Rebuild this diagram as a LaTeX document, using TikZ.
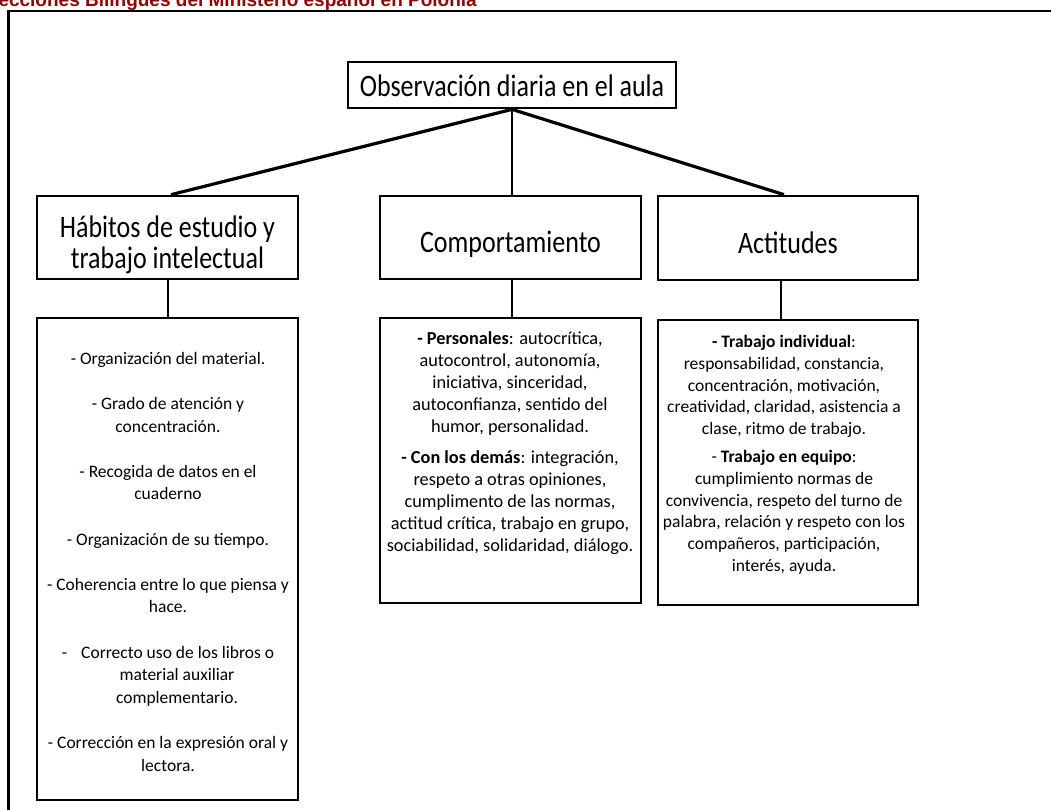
\documentclass[tikz,border=0pt]{standalone}
\usepackage{fontspec}
\usepackage{graphicx}
\setmainfont{Carlito}
\newfontfamily\titlefont{Liberation Sans}
\usetikzlibrary{calc}
\definecolor{titlered}{RGB}{150,0,0}
\newcommand\hdtext[2]{\raisebox{-#1}[\height][\depth]{\scalebox{1}[1.2]{\begin{tabular}{@{}c@{}}#2\end{tabular}}}}
\begin{document}
\begin{tikzpicture}[x=1pt,y=-1pt,
  box/.style={draw=black,line width=2.7pt,inner sep=0pt,rectangle,fill=white},
  hd/.style={font=\fontsize{26}{25}\selectfont},
  conn/.style={line width=3.2pt},
  vconn/.style={line width=2.2pt},
  body/.style={align=center,inner sep=0pt,anchor=north}]
\useasboundingbox (0,0) rectangle (1051,809);
\fill[white] (0,0) rectangle (1051,809);
\clip (0,0) rectangle (1051,809);

% title (cut by the top edge)
\node[anchor=base east,text=titlered,inner sep=0pt,
  font=\titlefont\bfseries\fontsize{19}{19}\selectfont] (title) at (477,6)
  {Secciones Bilingües del Ministerio español en Polonia};

% frame
\draw[line width=2.5pt] (8.7,815) |- (1060,11);

% boxes
\node[box,hd,minimum width=328,minimum height=46] (top) at (512,85)
  {\hdtext{5pt}{Observación diaria en el aula}};
\node[box,hd,minimum width=261,minimum height=83] (h1) at (167.5,237.5)
  {\hdtext{9pt}{Hábitos de estudio y\\trabajo intelectual}};
\node[box,hd,minimum width=261,minimum height=83] (h2) at (510.5,237.5)
  {\hdtext{9pt}{Comportamiento}};
\node[box,hd,minimum width=260,minimum height=84] (h3) at (788,238)
  {\hdtext{9pt}{Actitudes}};

\node[box,minimum width=261,minimum height=482] (d1) at (167.5,559) {};
\node[box,minimum width=261,minimum height=285] (d2) at (510.5,460.5) {};
\node[box,minimum width=260,minimum height=285] (d3) at (788,462.5) {};

% connectors
\draw[conn] (top.south) -- ($(h1.north)+(3.5,0)$);
\draw[vconn] (top.south) -- (top.south |- h2.north);
\draw[conn] (top.south) -- ($(h3.north)+(-4,0)$);
\draw[vconn] ($(h1.south)+(0.5,0)$) -- ($(d1.north)+(0.5,0)$);
\draw[vconn] ($(h2.south)+(1.5,0)$) -- ($(d2.north)+(1.5,0)$);
\draw[vconn] ($(h3.south)+(-7,0)$) -- ($(d3.north)+(-7,0)$);

% texts
\node[body,font=\fontsize{17.5}{22.6}\selectfont] (t1) at (168,352)
  {- Organización del material.\\[22.6pt]
   - Grado de atención y\\concentración.\\[22.6pt]
   - Recogida de datos en el\\cuaderno\\[22.6pt]
   - Organización de su tiempo.\\[22.6pt]
   - Coherencia entre lo que piensa y\\hace.\\[22.6pt]
   -\hspace*{14pt}Correcto uso de los libros o\\
   \hspace*{18pt}material auxiliar\\
   \hspace*{18pt}complementario.\\[22.6pt]
   - Corrección en la expresión oral y\\lectora.};

\node[body,font=\fontsize{18.3}{22.2}\selectfont] (t2) at (510,331)
  {\textbf{- Personales}: autocrítica,\\
   autocontrol, autonomía,\\
   iniciativa, sinceridad,\\
   autoconfianza, sentido del\\
   humor, personalidad.\\[8pt]
   \textbf{- Con los demás}: integración,\\
   respeto a otras opiniones,\\
   cumplimento de las normas,\\
   actitud crítica, trabajo en grupo,\\
   sociabilidad, solidaridad, diálogo.};

\node[body,font=\fontsize{17.5}{21.8}\selectfont] (t3) at (784,335)
  {\textbf{- Trabajo individual}:\\
   responsabilidad, constancia,\\
   concentración, motivación,\\
   creatividad, claridad, asistencia a\\
   clase, ritmo de trabajo.\\[6pt]
   - \textbf{Trabajo en equipo}:\\
   cumplimiento normas de\\
   convivencia, respeto del turno de\\
   palabra, relación y respeto con los\\
   compañeros, participación,\\
   interés, ayuda.};
\end{tikzpicture}
\end{document}
